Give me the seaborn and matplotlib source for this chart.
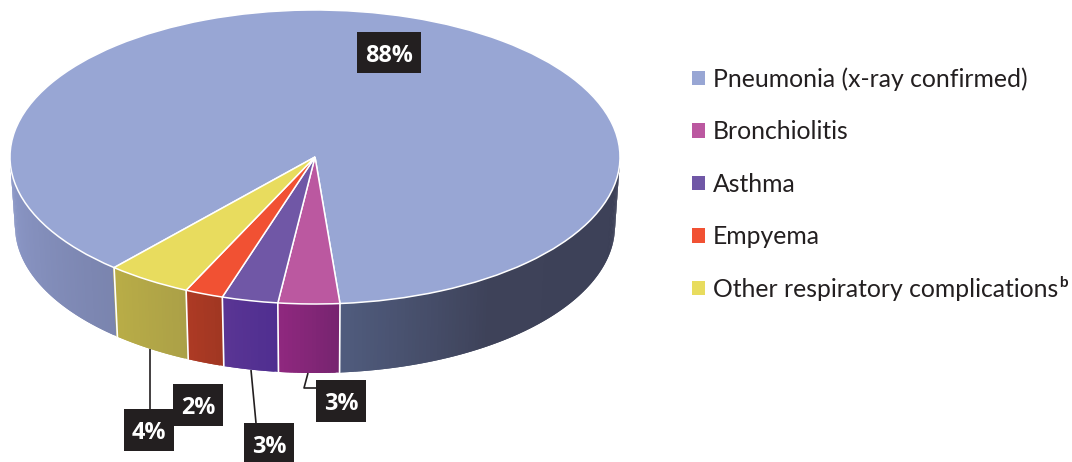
import numpy as np
import matplotlib
matplotlib.use("Agg")
import matplotlib.pyplot as plt
import matplotlib.colors as mcolors
from matplotlib.patches import Rectangle
import seaborn as sns

# ---- data ----
categories = ["Pneumonia (x-ray confirmed)", "Bronchiolitis", "Asthma", "Empyema",
              "Other respiratory complications"]
shares = [87.25, 3.25, 2.97, 2.03, 4.5]
share_labels = ["88%", "3%", "3%", "2%", "4%"]

# ---- style ----
top_colors = ["#98A6D4", "#BB58A0", "#7057A6", "#F15133", "#E8DC5E"]
wall_stops = [
    [(-90, "#8D99C9"), (-41, "#7A84AE"), (4.7, "#505C7E"), (35, "#3E4259"), (90, "#3C4057")],
    [(-7, "#90287F"), (4.7, "#76246F")],
    [(-17.7, "#5A3594"), (-7, "#4F2E90")],
    [(-25, "#AE3A24"), (-17.7, "#A03722")],
    [(-41, "#B9AD47"), (-25, "#ABA047")],
]
BOX = "#231F20"
W, H = 1072, 462
CX, CY, RX, RY = 315, 157, 305, 147   # top ellipse, pixels
DEPTH, RX2 = 69, 300                  # wall depth and lower-ellipse radius, pixels
START = 228.8

sns.set_theme(style="white")
plt.rcParams["font.family"] = ["Lato", "DejaVu Sans"]
palette = sns.color_palette(top_colors)

fig = plt.figure(figsize=(W / 100, H / 100), dpi=100)
ax = fig.add_axes([0, 0, 1, 1])

def dx(px):
    return (px - CX) / RX

def dy(py):
    return (CY - py) / RY

wedges, _ = ax.pie(shares, colors=palette, startangle=START, counterclock=False,
                   wedgeprops=dict(edgecolor="white", linewidth=1.1, zorder=3))
ax.set_aspect("auto")
ax.set_xlim(dx(0), dx(W))
ax.set_ylim(dy(H), dy(0))
ax.set_axis_off()


def wall_xy(deg):
    a = np.deg2rad(deg)
    x, y = np.cos(a), np.sin(a)
    return (x, y), (x * RX2 / RX, y - DEPTH / RY)


def shade(stops, d):
    ds = [s[0] for s in stops]
    cs = np.array([mcolors.to_rgb(s[1]) for s in stops])
    return [float(np.interp(d, ds, cs[:, k])) for k in range(3)]


# side wall, built from the same shares as the pie
edges = START - np.cumsum([0] + shares) * 3.6
STEP = 0.75
for i in range(len(shares)):
    a0, a1 = edges[i], edges[i + 1]
    steps = np.append(np.arange(a0, a1 - STEP * 0.5, -STEP), a1)
    for s, e in zip(steps[:-1], steps[1:]):
        m = (s + e) / 2
        if np.sin(np.deg2rad(m)) >= 0:
            continue
        d = (m % 360) - 270
        # each strip runs under the next one so that no seam shows
        e_over = max(e - STEP, a1)
        (x0, y0), (x0b, y0b) = wall_xy(s)
        (xm, ym), (xmb, ymb) = wall_xy(e)
        (x1, y1), (x1b, y1b) = wall_xy(e_over)
        c = shade(wall_stops[i], d)
        ax.fill([x0, xm, x1, x1b, xmb, x0b], [y0, ym, y1, y1b, ymb, y0b],
                facecolor=c, edgecolor="none", zorder=1)
    (x0, y0), (x0b, y0b) = wall_xy(a0)
    ax.plot([x0, x0b], [y0, y0b], color="white", lw=1.2, zorder=2)

# leader lines (pixels)
leaders = [[(150, 349), (150, 409)],
           [(251, 370), (256, 423)],
           [(308, 373), (304, 388), (316, 388)]]
for line in leaders:
    xs, ys = zip(*line)
    ax.plot([dx(v) for v in xs], [dy(v) for v in ys], color=BOX, lw=1.2, zorder=4,
            solid_capstyle="butt")

# value labels (order keeps the 4% box over the 2% box)
boxes = {0: (357, 32, 64, 41), 1: (316, 380, 50, 42), 3: (173, 384, 50, 42),
         4: (124, 409, 50, 42), 2: (244, 423, 50, 42)}
for z, i in enumerate([0, 1, 3, 4, 2]):
    x, y, w, h = boxes[i]
    ax.add_patch(Rectangle((dx(x), dy(y + h)), w / RX, h / RY, facecolor=BOX,
                           edgecolor="none", zorder=5 + z, clip_on=False))
    ax.text(dx(x + w / 2), dy(y + h / 2), share_labels[i], color="white", fontsize=16.8,
            fontweight="bold", family=["Open Sans", "DejaVu Sans"], ha="center",
            va="center_baseline", zorder=5.5 + z)

# legend
leg = ax.legend(wedges, categories, loc="upper left",
                bbox_to_anchor=(692 / W, 1 - 67 / H), bbox_transform=fig.transFigure,
                frameon=False, fontsize=17.85, handlelength=0.525, handleheight=0.525,
                handletextpad=0.33, labelspacing=1.19, borderpad=0, borderaxespad=0,
                labelcolor="#231F20")
for p in leg.get_patches():
    p.set_edgecolor("none")

# superscript after the last legend entry, placed once the legend is laid out
fig.canvas.draw()
bb = leg.get_texts()[4].get_window_extent()
sx, sy = ax.transData.inverted().transform((bb.x1 + 0.5, H - 287))
ax.text(sx, sy, "b", fontsize=11, fontweight="bold", color=BOX, va="baseline", ha="left")

fig.savefig("out.png", dpi=100, facecolor="white")
